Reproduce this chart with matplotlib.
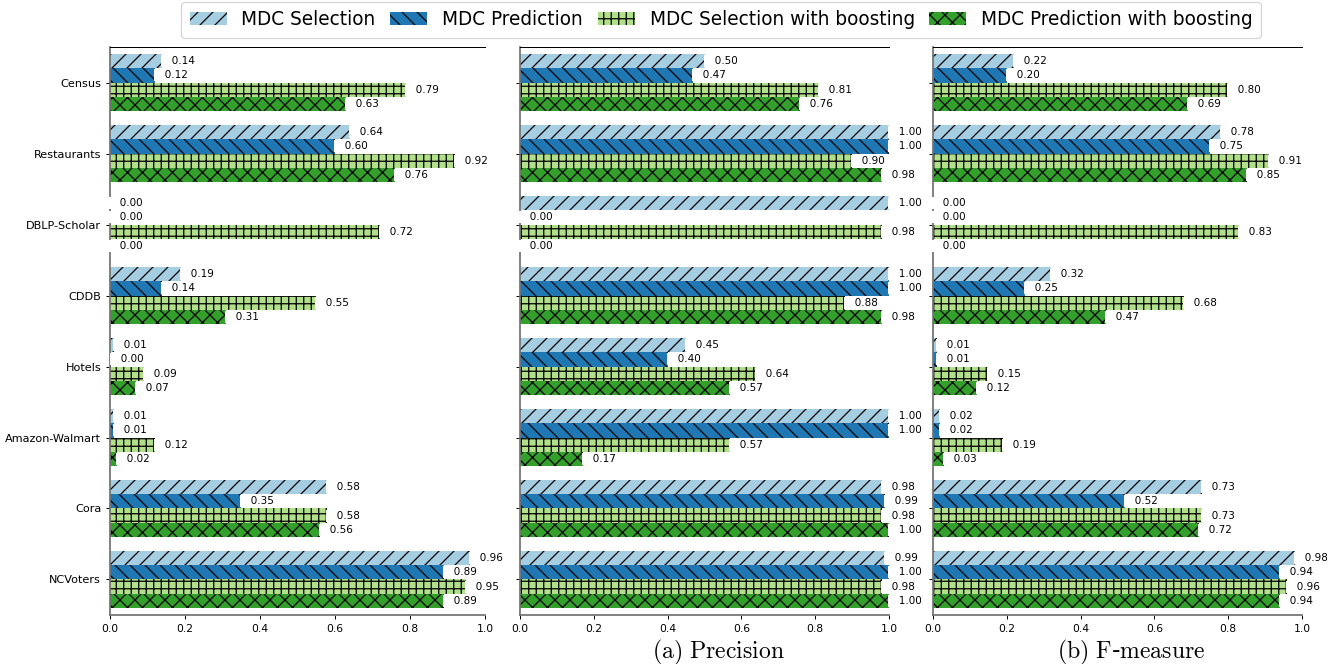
import numpy as np
import matplotlib
matplotlib.use('Agg')
import matplotlib.pyplot as plt
from matplotlib.patches import Patch

plt.rcParams['mathtext.fontset'] = 'cm'
plt.rcParams['hatch.linewidth'] = 1.0

datasets = ['Census', 'Restaurants', 'DBLP-Scholar', 'CDDB', 'Hotels',
            'Amazon-Walmart', 'Cora', 'NCVoters']
methods = ['MDC Selection', 'MDC Prediction', 'MDC Selection with boosting',
           'MDC Prediction with boosting']

# recall (left panel, no caption)
recall_sel = [0.14, 0.64, 0.00, 0.19, 0.01, 0.01, 0.58, 0.96]
recall_pred = [0.12, 0.60, 0.00, 0.14, 0.004, 0.01, 0.35, 0.89]
recall_sel_boost = [0.79, 0.92, 0.72, 0.55, 0.09, 0.12, 0.58, 0.95]
recall_pred_boost = [0.63, 0.76, 0.00, 0.31, 0.07, 0.02, 0.56, 0.89]

prec_sel = [0.50, 1.00, 1.00, 1.00, 0.45, 1.00, 0.98, 0.99]
prec_pred = [0.47, 1.00, 0.00, 1.00, 0.40, 1.00, 0.99, 1.00]
prec_sel_boost = [0.81, 0.90, 0.98, 0.88, 0.64, 0.57, 0.98, 0.98]
prec_pred_boost = [0.76, 0.98, 0.00, 0.98, 0.57, 0.17, 1.00, 1.00]

f_sel = [0.22, 0.78, 0.00, 0.32, 0.01, 0.02, 0.73, 0.98]
f_pred = [0.20, 0.75, 0.00, 0.25, 0.01, 0.02, 0.52, 0.94]
f_sel_boost = [0.80, 0.91, 0.83, 0.68, 0.15, 0.19, 0.73, 0.96]
f_pred_boost = [0.69, 0.85, 0.00, 0.47, 0.12, 0.03, 0.72, 0.94]

panels = [
    (recall_sel, recall_pred, recall_sel_boost, recall_pred_boost),
    (prec_sel, prec_pred, prec_sel_boost, prec_pred_boost),
    (f_sel, f_pred, f_sel_boost, f_pred_boost),
]
captions = [None, r'$\mathrm{(a)\ Precision}$', r'$\mathrm{(b)\ F}$-$\mathrm{measure}$']

colors = ['#a6cee3', '#1f78b4', '#b2df8a', '#33a02c']
hatches = ['//', '\\\\', '++', 'xx']

DPI = 90
fig = plt.figure(figsize=(1343 / DPI, 664 / DPI), dpi=DPI)
lefts = [0.0819, 0.3872, 0.6947]
width = 0.2748
bottom, height = 0.0738, 0.8554
bar_h = 0.2
offsets = [-0.3, -0.1, 0.1, 0.3]
y = np.arange(len(datasets))

for i, series in enumerate(panels):
    ax = fig.add_axes([lefts[i], bottom, width if i else 0.2792, height])
    for k, vals in enumerate(series):
        ax.barh(y + offsets[k], vals, height=bar_h, color=colors[k],
                hatch=hatches[k], edgecolor='black', linewidth=0)
        for yy, v in zip(y + offsets[k], vals):
            ax.text(v, yy, '   %.2f ' % v, ha='left', va='center', fontsize=8.3,
                    bbox=dict(boxstyle='square,pad=0.1', fc='white', ec='none'))
    ax.set_xlim(0, 1)
    ax.set_ylim(-0.5, len(datasets) - 0.5)
    ax.invert_yaxis()
    ax.set_xticks(np.arange(0, 1.01, 0.2))
    ax.set_yticks(y)
    if i == 0:
        ax.set_yticklabels(datasets)
    else:
        ax.set_yticklabels([])
    ax.tick_params(axis='x', labelsize=8.6)
    ax.tick_params(axis='y', labelsize=9)
    ax.spines['right'].set_visible(False)
    ax.spines['top'].set_color('black')
    ax.spines['left'].set_color('0.45')
    ax.spines['bottom'].set_color('0.45')
    ax.spines['left'].set_linewidth(1.4)
    ax.spines['bottom'].set_linewidth(1.4)
    if captions[i]:
        fig.text(lefts[i] + width / 2 + 0.01, 0.018, captions[i], ha='center',
                 va='center', fontsize=19)

handles = [Patch(facecolor=c, hatch=h, edgecolor='black', linewidth=0)
           for c, h in zip(colors, hatches)]
fig.legend(handles, methods, loc='center', bbox_to_anchor=(0.537, 0.970),
           ncol=4, fontsize=14.8, handlelength=2.0, columnspacing=0.8,
           handletextpad=0.8, borderpad=0.45)

fig.savefig('out.png', dpi=DPI)
